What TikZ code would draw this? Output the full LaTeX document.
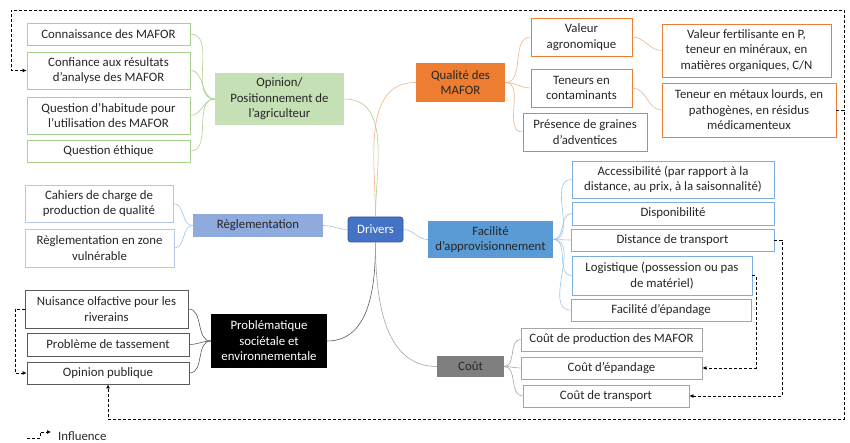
\documentclass[tikz,border=0pt]{standalone}
\usepackage{fontspec}
\setmainfont{Carlito}
\usetikzlibrary{arrows.meta}
\definecolor{gBorder}{HTML}{A9D18E}
\definecolor{gFill}{HTML}{C5E0B4}
\definecolor{oBorder}{HTML}{ED7D31}
\definecolor{oLine}{HTML}{F4B183}
\definecolor{rBorder}{HTML}{B4C7E7}
\definecolor{rFill}{HTML}{8FAADC}
\definecolor{rLine}{HTML}{9DC3E6}
\definecolor{dFill}{HTML}{4472C4}
\definecolor{dBorder}{HTML}{2F5597}
\definecolor{fFill}{HTML}{5B9BD5}
\definecolor{fBorder}{HTML}{5B9BD5}
\definecolor{cFill}{HTML}{7F7F7F}
\definecolor{cBorder}{HTML}{A5A5A5}
\definecolor{pBorder}{HTML}{595959}
\definecolor{txt}{HTML}{262626}
\newcommand{\bx}[7]{%
  \pgfmathsetmacro\bxw{#5-(#3)}%
  \pgfmathsetmacro\bxh{#6-(#4)}%
  \pgfmathsetmacro\bxcx{(#3+#5)/2}%
  \pgfmathsetmacro\bxcy{-(#4+#6)/2}%
  \node[#2, minimum width=\bxw pt, minimum height=\bxh pt] (#1) at (\bxcx,\bxcy) {#7};}
\begin{document}
\begin{tikzpicture}[x=1pt,y=1pt,
  every node/.style={font=\fontsize{12.8}{15.5}\selectfont, text=txt, align=center, inner sep=0pt},
  box/.style={draw, line width=0.8pt, fill=white},
  gbox/.style={box, draw=gBorder},
  obox/.style={box, draw=oBorder},
  rbox/.style={box, draw=rBorder},
  fbox/.style={box, draw=fBorder!80},
  cbox/.style={box, draw=cBorder},
  pbox/.style={box, draw=pBorder},
  gl/.style={draw=gBorder, line width=0.6pt},
  ol/.style={draw=oLine, line width=0.6pt},
  rl/.style={draw=rLine, line width=0.6pt},
  fl/.style={draw=rLine, line width=0.6pt},
  cl/.style={draw=cBorder, line width=0.6pt},
  pl/.style={draw=pBorder, line width=0.6pt},
  infl/.style={draw=black, line width=0.9pt, dash pattern=on 3pt off 2pt, -{Latex[length=4pt,width=4pt]}},
]
\useasboundingbox (0,0) rectangle (850,-443);

% central
\bx{drivers}{draw=dBorder, fill=dFill, rounded corners=2.5pt, line width=0.6pt, text=white}{348}{217}{403}{242}{Drivers}

% opinion group
\bx{opinion}{fill=gFill}{215}{73}{344}{125}{Opinion/\\Positionnement de\\l'agriculteur}
\bx{g1}{gbox}{27}{23}{190}{45}{Connaissance des MAFOR}
\bx{g2}{gbox}{27}{52}{190}{89}{Confiance aux résultats\\d'analyse des MAFOR}
\bx{g3}{gbox}{27}{97}{190}{134}{Question d'habitude pour\\l'utilisation des MAFOR}
\bx{g4}{gbox}{27}{140}{190}{162}{Question éthique}

% qualite group
\bx{qual}{fill=oBorder}{416}{63}{505}{102}{Qualité des\\MAFOR}
\bx{o1}{obox}{531}{18}{632}{56}{Valeur\\agronomique}
\bx{o2}{obox}{531}{69}{632}{107}{Teneurs en\\contaminants}
\bx{o3}{obox}{523}{113}{647}{151}{Présence de graines\\d'adventices}
\bx{o4}{obox}{662}{24}{831}{77}{Valeur fertilisante en P,\\teneur en minéraux, en\\matières organiques, C/N}
\bx{o5}{obox}{662}{83}{836}{137}{Teneur en métaux lourds, en\\pathogènes, en résidus\\médicamenteux}

% reglementation group
\bx{regl}{fill=rFill}{193}{214}{323}{237}{Règlementation}
\bx{r1}{rbox}{25}{185}{173}{222}{Cahiers de charge de\\production de qualité}
\bx{r2}{rbox}{25}{229}{174}{267}{Règlementation en zone\\vulnérable}

% problematique group
\bx{prob}{fill=black, text=white}{211}{314}{327}{368}{Problématique\\sociétale et\\environnementale}
\bx{p1}{pbox}{25}{290}{188}{328}{Nuisance olfactive pour les\\riverains}
\bx{p2}{pbox}{27}{333}{189}{356}{Problème de tassement}
\bx{p3}{pbox}{27}{362}{189}{384}{Opinion publique}

% facilite group
\bx{facil}{fill=fFill}{428}{221}{553}{258}{Facilité\\d'approvisionnement}
\bx{f1}{fbox}{572}{161}{774}{198}{Accessibilité (par rapport à la\\distance, au prix, à la saisonnalité)}
\bx{f2}{fbox}{572}{202}{774}{225}{Disponibilité}
\bx{f3}{fbox}{571}{229}{774}{251}{Distance de transport}
\bx{f4}{fbox}{572}{256}{752}{295}{Logistique (possession ou pas\\de matériel)}
\bx{f5}{fbox}{571}{299}{751}{321}{Facilité d'épandage}

% cout group
\bx{cout}{fill=cFill}{437}{356}{504}{377}{Coût}
\bx{c1}{cbox}{521}{328}{702}{351}{Coût de production des MAFOR}
\bx{c2}{cbox}{521}{357}{702}{379}{Coût d'épandage}
\bx{c3}{cbox}{523}{385}{689}{407}{Coût de transport}

% main branches
\draw[gl] (drivers.north) to[out=90,in=0] (opinion.east);
\draw[ol] (drivers.north) to[out=90,in=180] (qual.west);
\draw[rl] (drivers.west) to[out=180,in=0] (regl.east);
\draw[fl] (drivers.east) to[out=0,in=180] (facil.west);
\draw[pl] (drivers.south) to[out=-90,in=0] (prob.east);
\draw[cl] (drivers.south) to[out=-90,in=180] (cout.west);

% sub branches
\foreach \n in {g1,g2,g3,g4} \draw[gl] (opinion.west) to[out=180,in=0] (\n.east);
\foreach \n in {o1,o2,o3} \draw[ol] (qual.east) to[out=0,in=180] (\n.west);
\draw[ol] (o1.east) to[out=0,in=180] (o4.west);
\draw[ol] (o2.east) to[out=0,in=180] (o5.west);
\foreach \n in {r1,r2} \draw[rl] (regl.west) to[out=180,in=0] (\n.east);
\foreach \n in {p1,p2,p3} \draw[pl] (prob.west) to[out=180,in=0] (\n.east);
\foreach \n in {f1,f2,f3,f4,f5} \draw[fl] (facil.east) to[out=0,in=180] (\n.west);
\foreach \n in {c1,c2,c3} \draw[cl] (cout.east) to[out=0,in=180] (\n.west);

% influence connectors
\coordinate (railR) at (844,-10);
\coordinate (railL) at (11,-10);
\coordinate (railB) at (844,-419);
\coordinate (nl) at (15,0);
\coordinate (dx) at (782,0);
\coordinate (lx) at (756,0);
\draw[infl] (o5.east) -| (railR) -| (railL) |- (g2.west);
\draw[infl] (o5.east) -| (railB) -| (p3.south);
\draw[infl] (p1.west) -- (p1.west -| nl) |- (p3.west);
\draw[infl] (f3.east) -- (f3.east -| dx) |- (c3.east);
\draw[infl] (f4.east) -- (f4.east -| lx) |- (c2.east);

% legend
\coordinate (lg1) at (27,-438);
\coordinate (lg2) at (40,-438);
\coordinate (lg3) at (40,-432);
\coordinate (lg4) at (51,-432);
\draw[infl] (lg1) -- (lg2) -- (lg3) -- (lg4);
\node[anchor=west] (leg) at (58,-436) {Influence};
\end{tikzpicture}
\end{document}
